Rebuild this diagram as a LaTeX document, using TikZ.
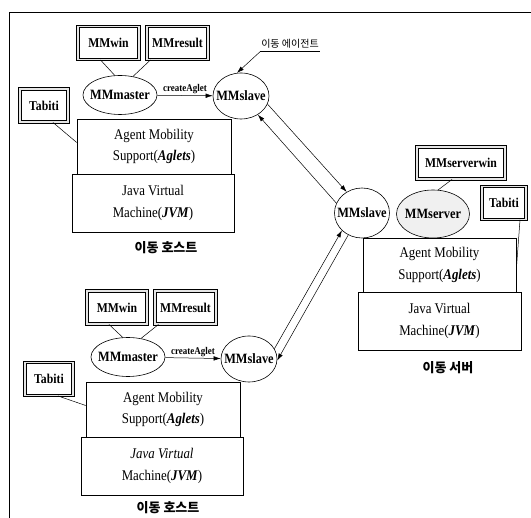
\documentclass[tikz,border=0pt]{standalone}
\usepackage{fontspec}
\setmainfont{Liberation Serif}[FakeStretch=0.87]
\newfontfamily\kr{Noto Sans CJK KR}
\usetikzlibrary{shapes.geometric, arrows.meta}
\begin{document}
\begin{tikzpicture}[x=1pt,y=-1pt,
  wbox/.style={draw, line width=0.9pt, double=gray!20, double distance=1.3pt, inner sep=0pt,
    font=\bfseries\fontsize{13.5}{15}\selectfont, minimum height=33pt},
  ell/.style={ellipse, draw, line width=0.6pt, inner sep=0pt, font=\bfseries\fontsize{14.2}{16}\selectfont},
  sbox/.style={rectangle, draw, line width=0.6pt, inner sep=0pt, align=center, font=\fontsize{14.8}{21.5}\selectfont},
  conn/.style={line width=0.5pt},
  arr/.style={line width=0.5pt, -{Latex[length=7pt,width=4.5pt]}},
  kor/.style={font=\kr\bfseries\fontsize{13}{15}\selectfont},
  calbl/.style={above, inner sep=1.5pt, font=\bfseries\fontsize{10.3}{11}\selectfont},
]
\useasboundingbox (0,0) rectangle (531,518);
% frame
\draw[line width=0.6pt] (9,518) -- (9,12) -- (531,12);

% ---------- top host ----------
\node[wbox, minimum width=61pt] (winT) at (108.5,43) {MMwin};
\node[wbox, minimum width=61pt] (resT) at (177.5,43) {MMresult};
\node[wbox, minimum width=48pt] (tabT) at (44,105.5) {Tabiti};
\node[ell, minimum width=74pt, minimum height=39pt] (masT) at (120,95) {\makebox[0pt]{MMmaster}};
\node[ell, minimum width=56pt, minimum height=46pt] (slvT) at (241,96) {\makebox[0pt]{MMslave}};
\node[sbox, minimum width=154pt, minimum height=55pt] (agT) at (154,146.5) {Agent Mobility\\Support(\textbf{\textit{Aglets}})};
\node[sbox, minimum width=162pt, minimum height=58pt] (jvT) at (153,203) {Java Virtual\\Machine(\textbf{\textit{JVM}})};
\node[kor] (lblT) at (166,248) {이동 호스트};
\draw[conn] ([xshift=-8pt]winT.south) -- (masT.105);
\draw[conn] ([xshift=-27pt]resT.south) -- (masT.55);
\draw[conn] ([xshift=9pt]tabT.south) -- ([yshift=4pt]agT.west);
\draw[arr] (masT) -- node[calbl] (caT) {createAglet} (slvT);

\node[font=\kr\fontsize{10}{12}\selectfont, inner xsep=1pt, inner ysep=3pt] (lblAg) at (290,44) {이동 에이전트};
\draw[conn] (lblAg.south west) -- (lblAg.south east);
\draw[arr] (lblAg.south west) -- (slvT.100);

% ---------- server ----------
\node[ell, minimum width=55pt, minimum height=50pt] (slvM) at (362,213) {\makebox[0pt]{MMslave}};
\node[ell, fill=gray!12, minimum width=73pt, minimum height=48pt] (srvM) at (433,214) {\makebox[0pt]{MMserver}};
\node[wbox, minimum width=88pt, minimum height=32pt] (swin) at (461,163) {MMserverwin};
\node[wbox, minimum width=44pt] (tabM) at (504,203) {Tabiti};
\node[sbox, minimum width=153pt, minimum height=54pt] (agM) at (439.5,265) {Agent Mobility\\Support(\textbf{\textit{Aglets}})};
\node[sbox, minimum width=163pt, minimum height=58pt] (jvM) at (439.5,321) {Java Virtual\\Machine(\textbf{\textit{JVM}})};
\node[kor] (lblM) at (448,368) {이동 서버};
\draw[conn] ([xshift=-9pt]swin.south) -- (srvM.78);
\draw[conn] ([xshift=16pt]tabM.south) -- ([yshift=-5pt]agM.east);

% ---------- bottom host ----------
\node[wbox, minimum width=60pt] (winB) at (117,307.5) {MMwin};
\node[wbox, minimum width=61pt] (resB) at (185.5,307.5) {MMresult};
\node[wbox, minimum width=48pt] (tabB) at (49,379) {Tabiti};
\node[ell, minimum width=74pt, minimum height=39pt] (masB) at (128,357) {\makebox[0pt]{MMmaster}};
\node[ell, minimum width=56pt, minimum height=46pt] (slvB) at (249,359) {\makebox[0pt]{MMslave}};
\node[sbox, minimum width=154pt, minimum height=55pt] (agB) at (163,409.5) {Agent Mobility\\Support(\textbf{\textit{Aglets}})};
\node[sbox, minimum width=162pt, minimum height=58pt] (jvB) at (162,466) {\textit{Java Virtual}\\Machine(\textbf{\textit{JVM}})};
\node[kor] (lblB) at (168,508) {이동 호스트};
\draw[conn] ([xshift=-8pt]winB.south) -- (masB.105);
\draw[conn] ([xshift=-27pt]resB.south) -- (masB.55);
\draw[conn] ([xshift=9pt]tabB.south) -- ([yshift=4pt]agB.west);
\draw[arr] (masB) -- node[calbl] (caB) {createAglet} (slvB);

% ---------- migration arrows ----------
\draw[arr] (slvT.-17) -- (slvM.126);
\draw[arr] (slvM.159) -- (slvT.-48);
\draw[arr] (slvB.22) -- (slvM.-139);
\draw[arr] (slvM.-122) -- (slvB.-3);
\end{tikzpicture}
\end{document}
